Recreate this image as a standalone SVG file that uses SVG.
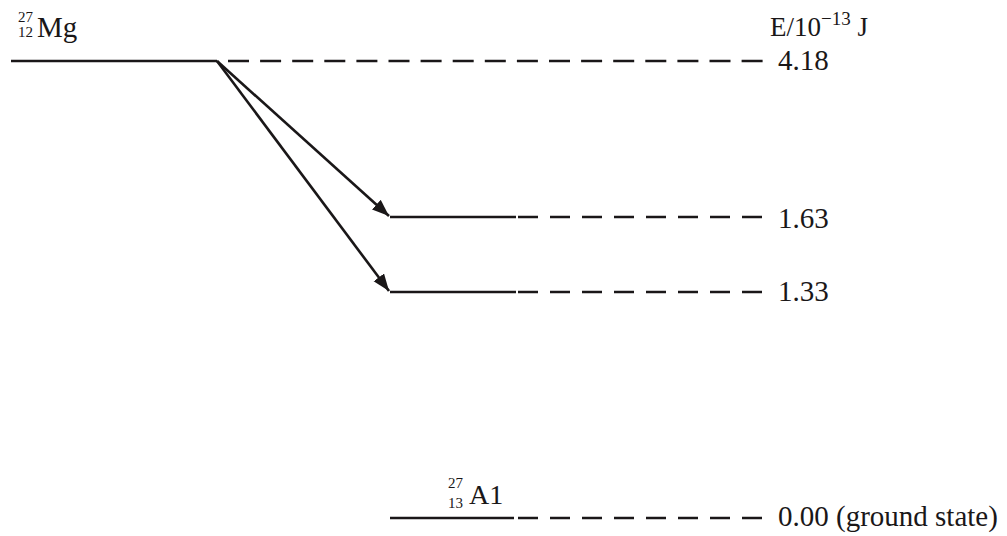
<svg xmlns="http://www.w3.org/2000/svg" width="1007" height="536" viewBox="0 0 1007 536">
<style>
.t{font-family:"Liberation Serif","Times New Roman",serif;fill:#1a1718}
.big{font-size:27px}
.val{font-size:29px}
.sm{font-size:15px}
.lvl{stroke:#1a1718;stroke-width:2.6;fill:none}
.dtop{stroke:#1a1718;stroke-width:2.6;fill:none;stroke-dasharray:21 11.1}
.dlow{stroke:#1a1718;stroke-width:2.6;fill:none;stroke-dasharray:20 12}
.arr{stroke:#1a1718;stroke-width:2.6;fill:none;marker-end:url(#ah)}
</style>
<defs>
<marker id="ah" markerUnits="userSpaceOnUse" markerWidth="18" markerHeight="14" refX="17" refY="6.5" orient="auto">
<path d="M0,0 L17,6.5 L0,13 Z" fill="#1a1718"/>
</marker>
</defs>
<rect width="1007" height="536" fill="#ffffff"/>
<g id="mg">
<line class="lvl" x1="11" y1="61" x2="217" y2="61"/>
<line class="dtop" x1="228" y1="61" x2="763" y2="61"/>
<text class="t sm" x="18" y="22">27</text>
<text class="t sm" x="18" y="37">12</text>
<text class="t" x="37" y="37" style="font-size:29px">Mg</text>
<text class="t val" x="778" y="70">4.18</text>
</g>
<g id="axis">
<text class="t big" x="770" y="36">E/10<tspan style="font-size:19px" dy="-11">−13</tspan><tspan dy="11"> J</tspan></text>
</g>
<g id="l163">
<line class="lvl" x1="390" y1="217" x2="516" y2="217"/>
<line class="dlow" x1="518" y1="217" x2="763" y2="217"/>
<text class="t val" x="778" y="228">1.63</text>
</g>
<g id="l133">
<line class="lvl" x1="390" y1="292" x2="516" y2="292"/>
<line class="dlow" x1="518" y1="292" x2="763" y2="292"/>
<text class="t val" x="778" y="301">1.33</text>
</g>
<g id="al">
<line class="lvl" x1="390" y1="518" x2="514" y2="518"/>
<line class="dlow" x1="518" y1="518" x2="763" y2="518"/>
<text class="t sm" x="448" y="488">27</text>
<text class="t sm" x="448" y="508">13</text>
<text class="t" x="469" y="504" style="font-size:28px">A1</text>
<text class="t val" x="778" y="526">0.00 (ground state)</text>
</g>
<g id="connectors">
<line class="arr" x1="217" y1="61" x2="389" y2="216"/>
<line class="arr" x1="217" y1="61" x2="389" y2="291"/>
</g>
</svg>
